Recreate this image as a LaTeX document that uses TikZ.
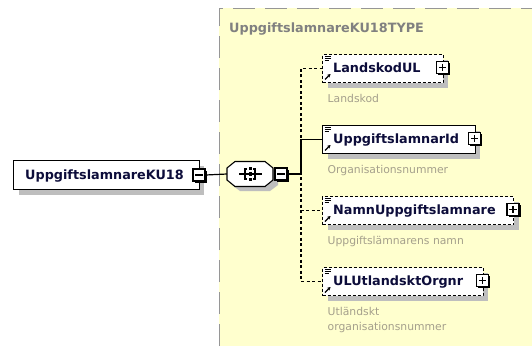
\documentclass[tikz,border=0pt]{standalone}
\usepackage{fontspec}
\setmainfont{DejaVu Sans}
\usetikzlibrary{shadows,calc,arrows.meta}
\definecolor{bgyellow}{RGB}{255,255,206}
\definecolor{framegray}{RGB}{150,150,150}
\definecolor{eltext}{RGB}{12,12,58}
\definecolor{desctext}{RGB}{165,160,140}
\definecolor{headtext}{RGB}{128,128,128}
\definecolor{shadowgray}{RGB}{190,190,190}
\tikzset{
  elem/.style={draw=black, fill=white, line width=1pt, inner sep=0pt, minimum height=28pt,
    anchor=north west, drop shadow={shadow xshift=5pt, shadow yshift=-5pt, fill=shadowgray, opacity=1}},
  optel/.style={dash pattern=on 3pt off 2pt},
  eltxt/.style={anchor=base west, inner sep=0pt, text=eltext, font=\fontsize{12.8}{15}\selectfont\bfseries},
  desc/.style={anchor=base west, inner sep=0pt, text=desctext, font=\fontsize{10.8}{15}\selectfont},
  btn/.style={draw=black, fill=white, line width=1.1pt, minimum size=12pt, inner sep=0pt,
    drop shadow={shadow xshift=1.8pt, shadow yshift=-1.8pt, fill=black, opacity=1}},
  minusbtn/.style={btn, path picture={\draw[line width=1.2pt] ([xshift=2.3pt]path picture bounding box.west) -- ([xshift=-2.3pt]path picture bounding box.east);}},
  plusbtn/.style={btn, path picture={\draw[line width=1.2pt] ([xshift=2.3pt]path picture bounding box.west) -- ([xshift=-2.3pt]path picture bounding box.east);
     \draw[line width=1.2pt] ([yshift=-2.3pt]path picture bounding box.north) -- ([yshift=2.3pt]path picture bounding box.south);}},
  conn/.style={draw=black, line width=1.2pt},
  optconn/.style={conn, dash pattern=on 3pt off 2.5pt},
}
\newcommand\elicons[1]{%
  \draw[line width=0.8pt] ($(#1.north west)+(2.5,2.8)$) -- +(6,0)
                          ($(#1.north west)+(2.5,4.8)$) -- +(6,0)
                          ($(#1.north west)+(2.5,6.8)$) -- +(4.5,0);
  \draw[line width=1.2pt, -{Stealth[length=3.2pt,width=3.6pt]}] ($(#1.north west)+(3,25.5)$) -- +(5.5,-5.5);
}
\begin{document}
\begin{tikzpicture}[x=1pt,y=-1pt]
\useasboundingbox (0,0) rectangle (532,346);
% type area
\fill[bgyellow] (219,8) rectangle (532,346);
\draw[framegray, line width=1pt, dash pattern=on 22pt off 10pt] (219,346) -- (219,8) -- (532,8);
\node[anchor=base west, inner sep=0pt, text=headtext, font=\fontsize{12.8}{15}\selectfont\bfseries] (typename) at (229,32) {UppgiftslamnareKU18TYPE};

% root element
\node[elem, minimum width=185.5pt, minimum height=29pt] (root) at (13,160) {};
\node[eltxt] (rootlbl) at (25,179) {UppgiftslamnareKU18};
\node[minusbtn] (rootbtn) at ([xshift=-0.5pt]root.east) {};

% sequence compositor
\fill[shadowgray] (240,167) -- (270,167) -- (278,173) -- (278,185) -- (270,191) -- (240,191) -- (232,185) -- (232,173) -- cycle;
\draw[fill=white, line width=1.1pt] (235,161.5) -- (265,161.5) -- (273,168) -- (273,180) -- (265,186.5) -- (235,186.5) -- (227,180) -- (227,168) -- cycle;
\node[minimum width=46pt, minimum height=25pt, inner sep=0pt] (seq) at (250,174) {};
\draw[line width=1.1pt] (239,174) -- (262,174);
\draw[line width=1.1pt] (247,169) -- (245,169) -- (245,179) -- (247,179);
\draw[line width=1.1pt] (253,169) -- (255,169) -- (255,179) -- (253,179);
\fill (248.6,166.6) rectangle (251.8,170.2);
\fill (248.6,172.4) rectangle (251.8,175.8);
\fill (248.6,178) rectangle (251.8,181.4);
\node[minusbtn] (seqbtn) at (281,174) {};
\coordinate (bus) at (301,174);

% children
\node[elem, optel, minimum width=120.5pt] (c1) at (322,54) {};
\node[eltxt] (c1lbl) at (333,72.5) {LandskodUL};
\node[plusbtn] (c1btn) at ([xshift=-1pt,yshift=1pt]c1.east) {};
\node[desc] (c1desc) at (327.5,102) {Landskod};

\node[elem, minimum width=152.5pt] (c2) at (322,125) {};
\node[eltxt] (c2lbl) at (333,143.5) {UppgiftslamnarId};
\node[plusbtn] (c2btn) at ([xshift=-1pt,yshift=1pt]c2.east) {};
\node[desc] (c2desc) at (327.5,173) {Organisationsnummer};

\node[elem, optel, minimum width=191pt] (c3) at (322,196) {};
\node[eltxt] (c3lbl) at (333,214.5) {NamnUppgiftslamnare};
\node[plusbtn] (c3btn) at ([xshift=-1pt,yshift=1pt]c3.east) {};
\node[desc] (c3desc) at (327.5,244.5) {Uppgiftslämnarens namn};

\node[elem, optel, minimum width=160.5pt] (c4) at (322,267) {};
\node[eltxt] (c4lbl) at (333,285.5) {ULUtlandsktOrgnr};
\node[plusbtn] (c4btn) at ([xshift=-1pt,yshift=1pt]c4.east) {};
\node[desc] (c4desc) at (327.5,315.5) {Utländskt};
\node[desc] (c4desc2) at (327.5,330.5) {organisationsnummer};

\elicons{c1}
\elicons{c2}
\elicons{c3}
\elicons{c4}

% connectors
\draw[conn] (rootbtn.east) -- (seq.west);
\draw[optconn] (seqbtn.east) -- (bus) |- (c1.west);
\draw[optconn] (seqbtn.east) -- (bus) |- (c3.west);
\draw[optconn] (seqbtn.east) -- (bus) |- (c4.west);
\draw[conn] (seqbtn.east) -- (bus) |- (c2.west);
\end{tikzpicture}
\end{document}
